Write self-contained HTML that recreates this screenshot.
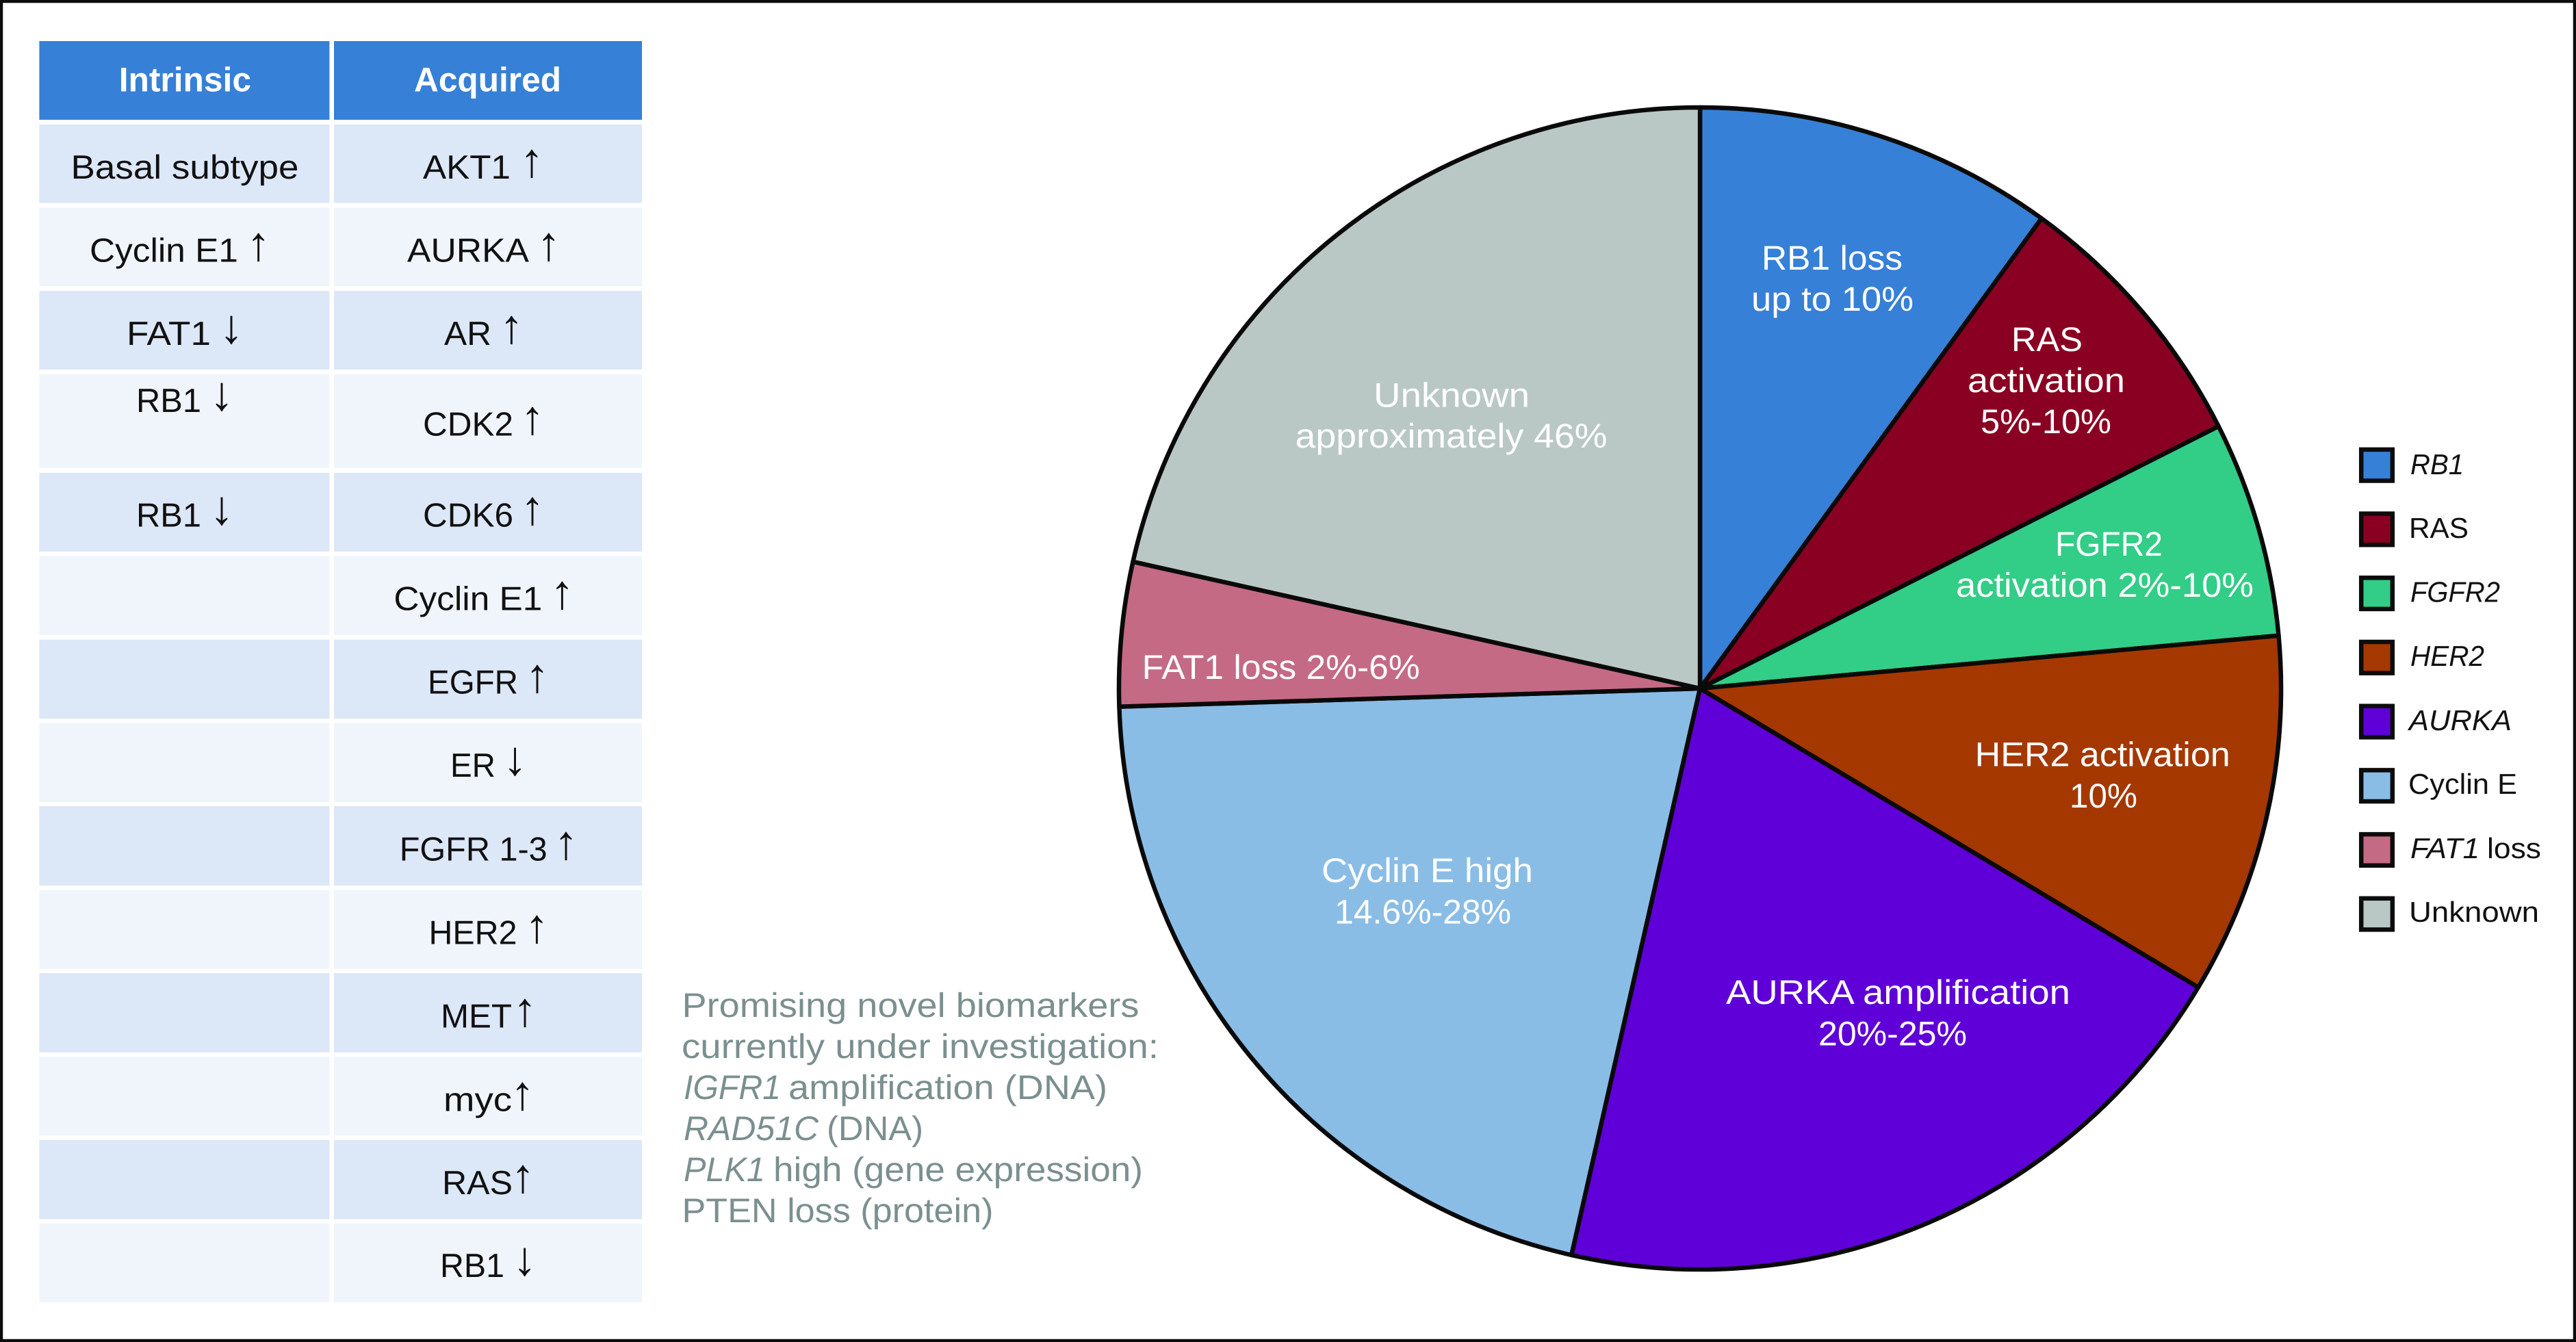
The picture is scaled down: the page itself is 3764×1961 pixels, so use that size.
<!DOCTYPE html>
<html lang="en">
<head>
<meta charset="utf-8">
<title>CDK4/6 inhibitor resistance biomarkers</title>
<style>
html,body{margin:0;padding:0;background:#fff;}
svg{display:block;font-family:"Liberation Sans",sans-serif;text-rendering:geometricPrecision;}
.t{font-size:49px;fill:#111;}
.h{font-size:50px;font-weight:700;fill:#fff;}
.ar{font-size:70px;fill:#111;text-anchor:middle;}
.p{font-size:50px;fill:#fff;}
.g{font-size:50px;fill:#7b8f8f;}
.l{font-size:42px;fill:#111;}
.i{font-style:italic;}
.dk{fill:#dce7f8;}
.lt{fill:#f0f5fc;}
.hd{fill:#3680d7;}
.sw{stroke:#0c0c0c;stroke-width:6.5;}
</style>
</head>
<body>
<svg id="figure" xmlns="http://www.w3.org/2000/svg" width="3764" height="1961" viewBox="0 0 3764 1961">
<rect x="0" y="0" width="3764" height="1961" fill="#fff"/>

<g>
<rect class="hd" x="57.4" y="60" width="424" height="115"/>
<rect class="hd" x="488" y="60" width="450" height="115"/>
<text class="h" x="173.7" y="133.7" textLength="193.3" lengthAdjust="spacingAndGlyphs">Intrinsic</text>
<text class="h" x="605" y="133.7" textLength="215" lengthAdjust="spacingAndGlyphs">Acquired</text>

<rect class="dk" x="57.4" y="182" width="424" height="114.5"/>
<rect class="dk" x="488" y="182" width="450" height="114.5"/>
<rect class="lt" x="57.4" y="303.6" width="424" height="114.4"/>
<rect class="lt" x="488" y="303.6" width="450" height="114.4"/>
<rect class="dk" x="57.4" y="425" width="424" height="115"/>
<rect class="dk" x="488" y="425" width="450" height="115"/>
<rect class="lt" x="57.4" y="547" width="424" height="137"/>
<rect class="lt" x="488" y="547" width="450" height="137"/>
<rect class="dk" x="57.4" y="691" width="424" height="115"/>
<rect class="dk" x="488" y="691" width="450" height="115"/>
<rect class="lt" x="57.4" y="812.5" width="424" height="115.5"/>
<rect class="lt" x="488" y="812.5" width="450" height="115.5"/>
<rect class="dk" x="57.4" y="934.6" width="424" height="115.4"/>
<rect class="dk" x="488" y="934.6" width="450" height="115.4"/>
<rect class="lt" x="57.4" y="1056.7" width="424" height="115.3"/>
<rect class="lt" x="488" y="1056.7" width="450" height="115.3"/>
<rect class="dk" x="57.4" y="1178" width="424" height="116"/>
<rect class="dk" x="488" y="1178" width="450" height="116"/>
<rect class="lt" x="57.4" y="1300.5" width="424" height="115.2"/>
<rect class="lt" x="488" y="1300.5" width="450" height="115.2"/>
<rect class="dk" x="57.4" y="1422" width="424" height="115.8"/>
<rect class="dk" x="488" y="1422" width="450" height="115.8"/>
<rect class="lt" x="57.4" y="1544" width="424" height="115.5"/>
<rect class="lt" x="488" y="1544" width="450" height="115.5"/>
<rect class="dk" x="57.4" y="1666" width="424" height="115.6"/>
<rect class="dk" x="488" y="1666" width="450" height="115.6"/>
<rect class="lt" x="57.4" y="1788" width="424" height="115"/>
<rect class="lt" x="488" y="1788" width="450" height="115"/>

<text class="t" x="103.5" y="261" textLength="333" lengthAdjust="spacingAndGlyphs">Basal subtype</text>
<text class="t" x="131" y="382.6" textLength="217" lengthAdjust="spacingAndGlyphs">Cyclin E1</text>
<text class="ar" x="377.6" y="380">↑</text>
<text class="t" x="185" y="504" textLength="123" lengthAdjust="spacingAndGlyphs">FAT1</text>
<text class="ar" x="338" y="501">↓</text>
<text class="t" x="199" y="602" textLength="95" lengthAdjust="spacingAndGlyphs">RB1</text>
<text class="ar" x="324" y="599">↓</text>
<text class="t" x="199" y="769.4" textLength="95" lengthAdjust="spacingAndGlyphs">RB1</text>
<text class="ar" x="324" y="766">↓</text>

<text class="t" x="618" y="261" textLength="128" lengthAdjust="spacingAndGlyphs">AKT1</text>
<text class="ar" x="777" y="258">↑</text>
<text class="t" x="595" y="382.6" textLength="178" lengthAdjust="spacingAndGlyphs">AURKA</text>
<text class="ar" x="801.7" y="380">↑</text>
<text class="t" x="649" y="504" textLength="69" lengthAdjust="spacingAndGlyphs">AR</text>
<text class="ar" x="747.4" y="501">↑</text>
<text class="t" x="618" y="636.7" textLength="132" lengthAdjust="spacingAndGlyphs">CDK2</text>
<text class="ar" x="778" y="634">↑</text>
<text class="t" x="618" y="769.4" textLength="132" lengthAdjust="spacingAndGlyphs">CDK6</text>
<text class="ar" x="778" y="766">↑</text>
<text class="t" x="575.4" y="891.7" textLength="217" lengthAdjust="spacingAndGlyphs">Cyclin E1</text>
<text class="ar" x="821.4" y="889">↑</text>
<text class="t" x="625" y="1013.4" textLength="132" lengthAdjust="spacingAndGlyphs">EGFR</text>
<text class="ar" x="785" y="1011">↑</text>
<text class="t" x="658" y="1135" textLength="66" lengthAdjust="spacingAndGlyphs">ER</text>
<text class="ar" x="752.5" y="1132">↓</text>
<text class="t" x="583.7" y="1257.6" textLength="216" lengthAdjust="spacingAndGlyphs">FGFR 1-3</text>
<text class="ar" x="827" y="1255">↑</text>
<text class="t" x="626.5" y="1379.4" textLength="129" lengthAdjust="spacingAndGlyphs">HER2</text>
<text class="ar" x="784.4" y="1377">↑</text>
<text class="t" x="644" y="1501.5" textLength="104" lengthAdjust="spacingAndGlyphs">MET</text>
<text class="ar" x="767" y="1499">↑</text>
<text class="t" x="648" y="1623.5" textLength="100" lengthAdjust="spacingAndGlyphs">myc</text>
<text class="ar" x="763.4" y="1621">↑</text>
<text class="t" x="646" y="1745" textLength="103" lengthAdjust="spacingAndGlyphs">RAS</text>
<text class="ar" x="764" y="1742">↑</text>
<text class="t" x="643" y="1866" textLength="94" lengthAdjust="spacingAndGlyphs">RB1</text>
<text class="ar" x="766.6" y="1863">↓</text>
</g>

<g>
<text class="g" x="996.5" y="1486" textLength="668" lengthAdjust="spacingAndGlyphs">Promising novel biomarkers</text>
<text class="g" x="996" y="1546" textLength="697" lengthAdjust="spacingAndGlyphs">currently under investigation:</text>
<text class="g i" x="999" y="1606" textLength="142" lengthAdjust="spacingAndGlyphs">IGFR1</text>
<text class="g" x="1152" y="1606" textLength="466" lengthAdjust="spacingAndGlyphs">amplification (DNA)</text>
<text class="g i" x="999" y="1666" textLength="197" lengthAdjust="spacingAndGlyphs">RAD51C</text>
<text class="g" x="1208" y="1666" textLength="141" lengthAdjust="spacingAndGlyphs">(DNA)</text>
<text class="g i" x="999" y="1726" textLength="119" lengthAdjust="spacingAndGlyphs">PLK1</text>
<text class="g" x="1130" y="1726" textLength="540" lengthAdjust="spacingAndGlyphs">high (gene expression)</text>
<text class="g" x="996.5" y="1786" textLength="455" lengthAdjust="spacingAndGlyphs">PTEN loss (protein)</text>
</g>

<g id="pie"></g>

<g>
<text class="p" x="2574" y="394" textLength="206" lengthAdjust="spacingAndGlyphs">RB1 loss</text>
<text class="p" x="2559" y="454" textLength="237" lengthAdjust="spacingAndGlyphs">up to 10%</text>
<text class="p" x="2939" y="513" textLength="104" lengthAdjust="spacingAndGlyphs">RAS</text>
<text class="p" x="2875" y="573" textLength="230" lengthAdjust="spacingAndGlyphs">activation</text>
<text class="p" x="2894" y="633" textLength="191" lengthAdjust="spacingAndGlyphs">5%-10%</text>
<text class="p" x="3003" y="812" textLength="157" lengthAdjust="spacingAndGlyphs">FGFR2</text>
<text class="p" x="2858" y="872" textLength="435" lengthAdjust="spacingAndGlyphs">activation 2%-10%</text>
<text class="p" x="2885.7" y="1119.7" textLength="373" lengthAdjust="spacingAndGlyphs">HER2 activation</text>
<text class="p" x="3024" y="1180" textLength="99" lengthAdjust="spacingAndGlyphs">10%</text>
<text class="p" x="2522" y="1467" textLength="503" lengthAdjust="spacingAndGlyphs">AURKA amplification</text>
<text class="p" x="2657" y="1527.6" textLength="217" lengthAdjust="spacingAndGlyphs">20%-25%</text>
<text class="p" x="1931" y="1289" textLength="309" lengthAdjust="spacingAndGlyphs">Cyclin E high</text>
<text class="p" x="1950" y="1349.6" textLength="258" lengthAdjust="spacingAndGlyphs">14.6%-28%</text>
<text class="p" x="1668.7" y="992" textLength="406" lengthAdjust="spacingAndGlyphs">FAT1 loss 2%-6%</text>
<text class="p" x="2007" y="594.5" textLength="228" lengthAdjust="spacingAndGlyphs">Unknown</text>
<text class="p" x="1892.5" y="654" textLength="456" lengthAdjust="spacingAndGlyphs">approximately 46%</text>
</g>

<g>
<rect class="sw" fill="#3680d7" x="3450.2" y="656.9" width="45.6" height="45.6"/>
<text class="l i" x="3522" y="692.9" textLength="78" lengthAdjust="spacingAndGlyphs">RB1</text>
<rect class="sw" fill="#8a0022" x="3450.2" y="750.6" width="45.6" height="45.6"/>
<text class="l" x="3520" y="786" textLength="87" lengthAdjust="spacingAndGlyphs">RAS</text>
<rect class="sw" fill="#32cd87" x="3450.2" y="844.3" width="45.6" height="45.6"/>
<text class="l i" x="3522" y="879.6" textLength="131" lengthAdjust="spacingAndGlyphs">FGFR2</text>
<rect class="sw" fill="#a43800" x="3450.2" y="938" width="45.6" height="45.6"/>
<text class="l i" x="3522" y="973" textLength="108" lengthAdjust="spacingAndGlyphs">HER2</text>
<rect class="sw" fill="#5f00d8" x="3450.2" y="1031.7" width="45.6" height="45.6"/>
<text class="l i" x="3520" y="1067" textLength="150" lengthAdjust="spacingAndGlyphs">AURKA</text>
<rect class="sw" fill="#8abde6" x="3450.2" y="1125.4" width="45.6" height="45.6"/>
<text class="l" x="3519" y="1160" textLength="159" lengthAdjust="spacingAndGlyphs">Cyclin E</text>
<rect class="sw" fill="#c46a85" x="3450.2" y="1219.1" width="45.6" height="45.6"/>
<text class="l i" x="3522" y="1254" textLength="101" lengthAdjust="spacingAndGlyphs">FAT1</text>
<text class="l" x="3634" y="1254" textLength="79" lengthAdjust="spacingAndGlyphs">loss</text>
<rect class="sw" fill="#bac8c5" x="3450.2" y="1312.8" width="45.6" height="45.6"/>
<text class="l" x="3520" y="1347" textLength="190" lengthAdjust="spacingAndGlyphs">Unknown</text>
</g>

<rect x="2" y="2" width="3760" height="1957" fill="none" stroke="#0c0c0c" stroke-width="4.5"/>
</svg>
<script>
var sliceNames = ['rb1', 'ras', 'fgfr2', 'her2', 'aurka', 'cyclin-e', 'fat1-loss', 'unknown'];
var sliceValues = [10, 7.55, 6, 10.05, 19.95, 20.95, 4, 21.5];
var sliceColors = ['#3680d7', '#8a0022', '#32cd87', '#a43800', '#5f00d8', '#8abde6', '#c46a85', '#bac8c5'];

var pieCx = 2484;
var pieCy = 1006;
var pieR = 849;
var svgNs = 'http://www.w3.org/2000/svg';
var total = sliceValues.reduce(function (a, b) { return a + b; }, 0);

function angleScale(v) {
  return v / total * 2 * Math.PI;
}
function pointAt(a) {
  return [pieCx + pieR * Math.sin(a), pieCy - pieR * Math.cos(a)];
}

var pieGroup = document.getElementById('pie');
var cumulative = 0;
sliceValues.forEach(function (v, i) {
  var a0 = angleScale(cumulative);
  cumulative += v;
  var a1 = angleScale(cumulative);
  var p0 = pointAt(a0);
  var p1 = pointAt(a1);
  var large = (a1 - a0) > Math.PI ? 1 : 0;
  var el = document.createElementNS(svgNs, 'path');
  el.setAttribute('d', 'M' + pieCx + ' ' + pieCy + 'L' + p0[0] + ' ' + p0[1] + 'A' + pieR + ' ' + pieR + ' 0 ' + large + ' 1 ' + p1[0] + ' ' + p1[1] + 'Z');
  el.setAttribute('fill', sliceColors[i]);
  el.setAttribute('stroke', '#0a0a0a');
  el.setAttribute('stroke-width', '6.5');
  el.setAttribute('stroke-linejoin', 'round');
  
  
  pieGroup.appendChild(el);
});
</script>
</body>
</html>
